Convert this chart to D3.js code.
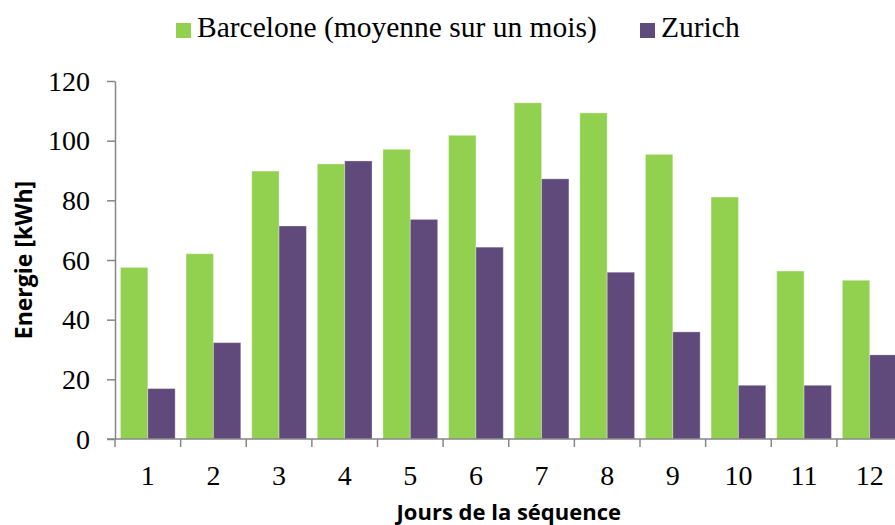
<!DOCTYPE html>
<html>
<head>
<meta charset="utf-8">
<script src="https://cdn.jsdelivr.net/npm/d3@7"></script>
<style>
  html, body { margin: 0; padding: 0; background: #fff; }
  svg { display: block; }
</style>
</head>
<body>
<svg id="chart" width="895" height="525"></svg>
<script>
// Daily energy over the 12-day sequence
const days = ["1", "2", "3", "4", "5", "6", "7", "8", "9", "10", "11", "12"];
const barcelone = [57.5, 62.1, 89.8, 92.2, 97.1, 101.8, 112.7, 109.3, 95.4, 81.1, 56.3, 53.2];
const zurich = [16.9, 32.3, 71.4, 93.2, 73.6, 64.3, 87.2, 55.9, 35.9, 18.0, 18.0, 28.2];
const yTicks = [0, 20, 40, 60, 80, 100, 120];
const seriesNames = ["Barcelone (moyenne sur un mois)", "Zurich"];
const seriesColors = ["#92D050", "#604A7B"];

const svg = d3.select("#chart");
const axisColor = "#868686";
const serif = "'Liberation Serif', 'Times New Roman', serif";
const sans = "'Open Sans', 'Noto Sans', sans-serif";

const plotLeft = 115, plotRight = 902.5, plotTop = 81, plotBottom = 439;

const x = d3.scaleBand().domain(days).range([plotLeft, plotRight]).paddingInner(0).paddingOuter(0);
const inner = d3.scaleBand().domain([0, 1]).range([0, x.bandwidth()]).paddingInner(0).paddingOuter(0.2);
const y = d3.scaleLinear().domain([0, 120]).range([plotBottom, plotTop]);

// Bars
const series = [barcelone, zurich];
series.forEach((vals, si) => {
  svg.append("g")
    .selectAll("rect")
    .data(vals)
    .join("rect")
    .attr("x", (d, i) => x(days[i]) + inner(si))
    .attr("y", d => y(d))
    .attr("width", inner.bandwidth())
    .attr("height", d => y(0) - y(d))
    .attr("fill", seriesColors[si])
    .attr("stroke", "rgba(255,255,255,0.3)")
    .attr("stroke-width", 1);
});

// Y axis
const yAxis = svg.append("g")
  .attr("transform", `translate(${plotLeft},0)`)
  .call(d3.axisLeft(y).tickValues(yTicks).tickSize(8).tickPadding(17).tickSizeOuter(0));
yAxis.select(".domain").attr("stroke", axisColor).attr("stroke-width", 1.5);
yAxis.selectAll(".tick line").attr("stroke", axisColor).attr("stroke-width", 1.5);
yAxis.selectAll(".tick text")
  .attr("fill", "#000").attr("font-family", serif).attr("font-size", 28).attr("dy", "0.33em");

// X axis: ticks sit on the band boundaries
const xAxisG = svg.append("g").attr("transform", `translate(0,${plotBottom})`);
xAxisG.append("line")
  .attr("x1", plotLeft - 8).attr("x2", plotRight)
  .attr("stroke", axisColor).attr("stroke-width", 1.5);
const boundaries = days.map(d => x(d)).concat([plotRight]);
xAxisG.selectAll(".bt")
  .data(boundaries)
  .join("line")
  .attr("class", "bt")
  .attr("x1", d => d).attr("x2", d => d)
  .attr("y1", 0).attr("y2", 8)
  .attr("stroke", axisColor).attr("stroke-width", 1.5);
xAxisG.selectAll(".lbl")
  .data(days)
  .join("text")
  .attr("class", "lbl")
  .attr("x", d => x(d) + x.bandwidth() / 2)
  .attr("y", 46)
  .attr("text-anchor", "middle")
  .attr("font-family", serif).attr("font-size", 28)
  .text(d => d);

// Axis titles
svg.append("text")
  .attr("x", (plotLeft + plotRight) / 2).attr("y", 520)
  .attr("text-anchor", "middle")
  .attr("font-family", sans).attr("font-weight", "bold").attr("font-size", 22)
  .text("Jours de la séquence");
svg.append("text")
  .attr("transform", `translate(32,${(plotTop + plotBottom) / 2}) rotate(-90)`)
  .attr("text-anchor", "middle")
  .attr("font-family", sans).attr("font-weight", "bold").attr("font-size", 23)
  .text("Energie [kWh]");

// Legend
const legendX = [176, 640];
seriesNames.forEach((name, i) => {
  const g = svg.append("g").attr("transform", `translate(${legendX[i]},0)`);
  g.append("rect").attr("x", 0).attr("y", 23).attr("width", 15).attr("height", 15).attr("fill", seriesColors[i]);
  g.append("text").attr("x", 21).attr("y", 37)
    .attr("font-family", serif).attr("font-size", 29.5)
    .text(name);
});
</script>
</body>
</html>
